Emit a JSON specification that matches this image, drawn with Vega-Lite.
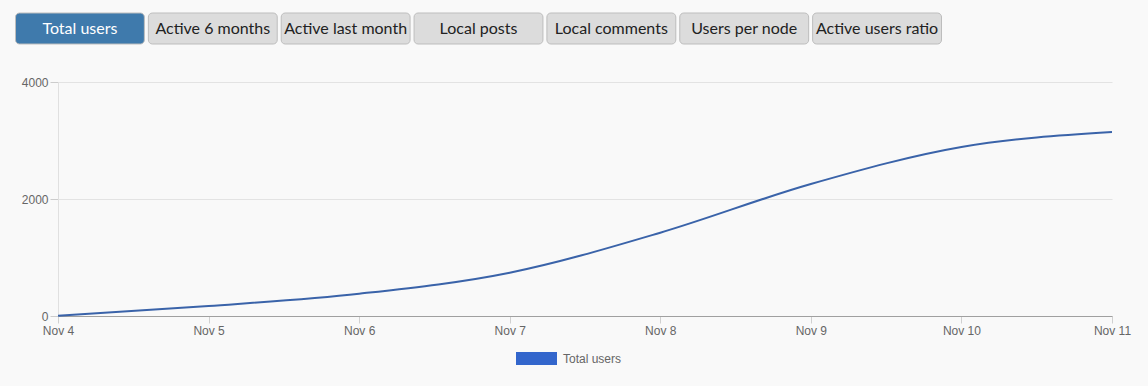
{
  "$schema": "https://vega.github.io/schema/vega-lite/v6.json",
  "background": "#f9f9f9",
  "padding": {"left": 14, "top": 12, "right": 20, "bottom": 50},
  "columns": 1,
  "align": "none",
  "spacing": 31,
  "config": {"view": {"stroke": null}, "font": "Liberation Sans"},
  "concat": [
    {
      "width": 926,
      "height": 31,
      "data": {"values": [
        {"label": "Total users", "state": "active"},
        {"label": "Active 6 months", "state": "idle"},
        {"label": "Active last month", "state": "idle"},
        {"label": "Local posts", "state": "idle"},
        {"label": "Local comments", "state": "idle"},
        {"label": "Users per node", "state": "idle"},
        {"label": "Active users ratio", "state": "idle"}
      ]},
      "encoding": {
        "x": {"field": "label", "type": "nominal", "sort": null, "axis": null,
              "scale": {"paddingInner": 0.03, "paddingOuter": 0, "range": [-42.5, 883.5]}}
      },
      "layer": [
        {
          "mark": {"type": "rect", "cornerRadius": 4, "stroke": "#bdbdbd", "strokeWidth": 1},
          "encoding": {
            "color": {"field": "state", "type": "nominal", "legend": null,
                      "scale": {"domain": ["active", "idle"], "range": ["#3f7aac", "#dcdcdc"]}}
          }
        },
        {
          "mark": {"type": "text", "font": "Lato", "fontSize": 16, "baseline": "middle"},
          "encoding": {
            "text": {"field": "label"},
            "color": {"field": "state", "type": "nominal", "legend": null,
                      "scale": {"domain": ["active", "idle"], "range": ["#ffffff", "#222222"]}}
          }
        }
      ],
      "resolve": {"scale": {"color": "independent"}}
    },
    {
      "width": 1054,
      "height": 234,
      "data": {"values": [
        {"date": "2023-11-04", "users": 5, "series": "Total users"},
        {"date": "2023-11-05", "users": 171, "series": "Total users"},
        {"date": "2023-11-06", "users": 381, "series": "Total users"},
        {"date": "2023-11-07", "users": 740, "series": "Total users"},
        {"date": "2023-11-08", "users": 1424, "series": "Total users"},
        {"date": "2023-11-09", "users": 2256, "series": "Total users"},
        {"date": "2023-11-10", "users": 2889, "series": "Total users"},
        {"date": "2023-11-11", "users": 3145, "series": "Total users"}
      ]},
      "mark": {"type": "line", "interpolate": "monotone", "strokeWidth": 2},
      "encoding": {
        "x": {"field": "date", "type": "temporal", "title": null,
              "scale": {"type": "utc", "nice": false},
              "axis": {"format": "%b %-d", "tickCount": "day", "labelFlush": false, "labelOverlap": false,
                       "grid": false, "domainColor": "#a0a0a0", "tickColor": "#d0d0d0", "tickSize": 7,
                       "labelPadding": 2, "labelFontSize": 12, "labelColor": "#666666"}},
        "y": {"field": "users", "type": "quantitative", "title": null,
              "scale": {"domain": [0, 4000], "nice": false},
              "axis": {"values": [0, 2000, 4000], "format": "d", "grid": true, "gridColor": "#e3e3e3", "domainColor": "#e0e0e0",
                       "tickColor": "#cccccc", "tickSize": 8, "labelPadding": 2, "minExtent": 43,
                       "labelFontSize": 12, "labelColor": "#666666"}},
        "color": {"field": "series", "type": "nominal",
                  "scale": {"range": ["#3a63a9"]},
                  "legend": {"title": null, "orient": "none", "legendX": 458, "legendY": 325,
                             "symbolType": "M-1,-0.317H1V0.317H-1Z", "symbolSize": 1681,
                             "labelFontSize": 12, "labelColor": "#666666", "labelOffset": 6,
                             "encode": {"symbols": {"update": {"fill": {"value": "#3366cc"}, "stroke": {"value": "#3366cc"}, "strokeWidth": {"value": 0}}}}}}
      }
    }
  ]
}
